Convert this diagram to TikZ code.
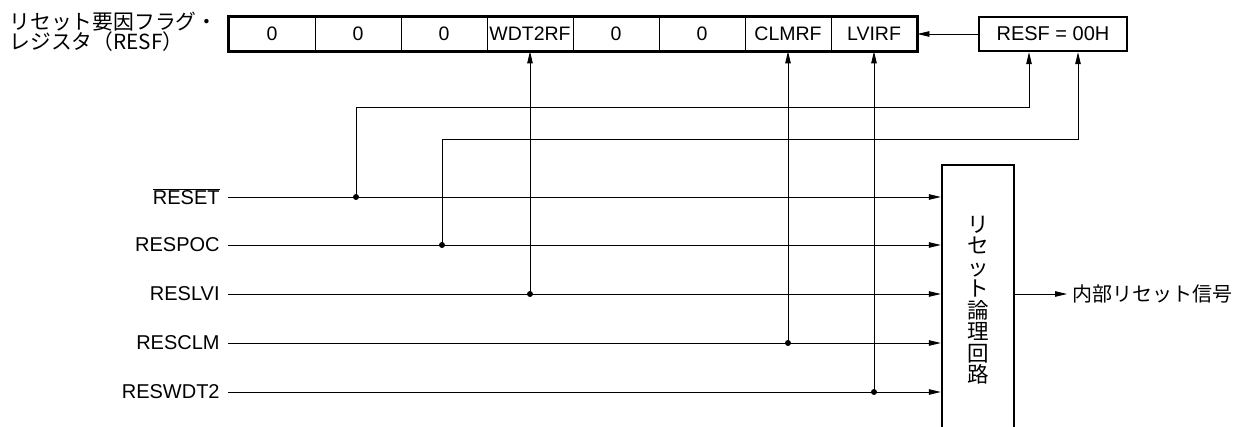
\documentclass[tikz,border=0pt]{standalone}
\usepackage{fontspec}
\setmainfont{Liberation Sans}
\newfontfamily\jpfont{Noto Sans CJK JP}
\usepackage{tikz}
\usetikzlibrary{arrows.meta, positioning, calc}
\newcommand{\sigfont}{\fontsize{20}{21}\selectfont}

\begin{document}
\begin{tikzpicture}[x=1pt, y=-1pt, line width=0.8pt,
    regcell/.style={draw, line width=0.8pt, minimum width=86pt, minimum height=34pt, inner sep=0pt, font=\fontsize{19.5}{20}\selectfont},
    thickbox/.style={draw, line width=2.4pt, inner sep=0pt, font=\sigfont},
    sigline/.style={-{Triangle[length=12pt, width=5.5pt]}},
    junc/.style={circle, fill, inner sep=0pt, minimum size=6pt},
    siglbl/.style={anchor=east, inner sep=0pt, font=\sigfont}]
    \path[use as bounding box, clip] (0,0) rectangle (1247,427);

    % Register RESF
    \node[anchor=west, align=left, inner sep=0pt, font=\jpfont\fontsize{20.8}{19.5}\selectfont] (title) at (9,32) {リセット要因フラグ・\\レジスタ（RESF）};
    \foreach \v [count=\i] in {0,0,0,WDT2RF,0,0,CLMRF,LVIRF} {
        \node[regcell] (c\i) at ({229+86*(\i-0.5)},34) {\v};
    }
    \draw[line width=2.4pt] (c1.north west) rectangle (c8.south east);

    % Reset value
    \node[thickbox, minimum width=148pt, minimum height=34pt] (resf) at (1053,34) {RESF = 00H};
    \draw[sigline] (resf) -- (c8);
    \coordinate (ka) at ($(resf.south)+(-24,0)$);
    \coordinate (kb) at ($(resf.south)+(25,0)$);

    % Reset logic
    \node[thickbox, anchor=north, minimum width=72pt, minimum height=270pt, align=center,
          font=\jpfont\fontsize{21.5}{21.5}\selectfont] (logic) at (978,164)
          {リ\\セ\\ッ\\ト\\論\\理\\回\\路};
    \node[anchor=west, inner xsep=5pt, inner ysep=0pt, font=\jpfont\fontsize{20}{20}\selectfont] (outsig) at (1067,294) {内部リセット信号};

    % Reset sources
    \foreach \n/\t/\y in {rst/{$\overline{\mbox{RESET}}$}/197, poc/RESPOC/245, lvi/RESLVI/294, clm/RESCLM/343, wdt/RESWDT2/392} {
        \coordinate (\n) at (228,\y);
        \node[siglbl] (l\n) at (220,\y) {\t};
        \draw[sigline] (\n) -- (\n -| logic.west);
    }
    \draw[sigline] (logic.east |- lvi) -- (outsig.west);

    % Flag branches
    \node[junc] (jrst) at (356,197) {};
    \node[junc] (jpoc) at (442,245) {};
    \node[junc] (jlvi) at (c4.south |- lvi) {};
    \node[junc] (jclm) at (c7.south |- clm) {};
    \node[junc] (jwdt) at (c8.south |- wdt) {};
    \draw[sigline] (jrst.center) |- (ka |- 0,107) -- (ka);
    \draw[sigline] (jpoc.center) |- (kb |- 0,139) -- (kb);
    \draw[sigline] (jlvi.center) -- (c4.south);
    \draw[sigline] (jclm.center) -- (c7.south);
    \draw[sigline] (jwdt.center) -- (c8.south);
\end{tikzpicture}
\end{document}
